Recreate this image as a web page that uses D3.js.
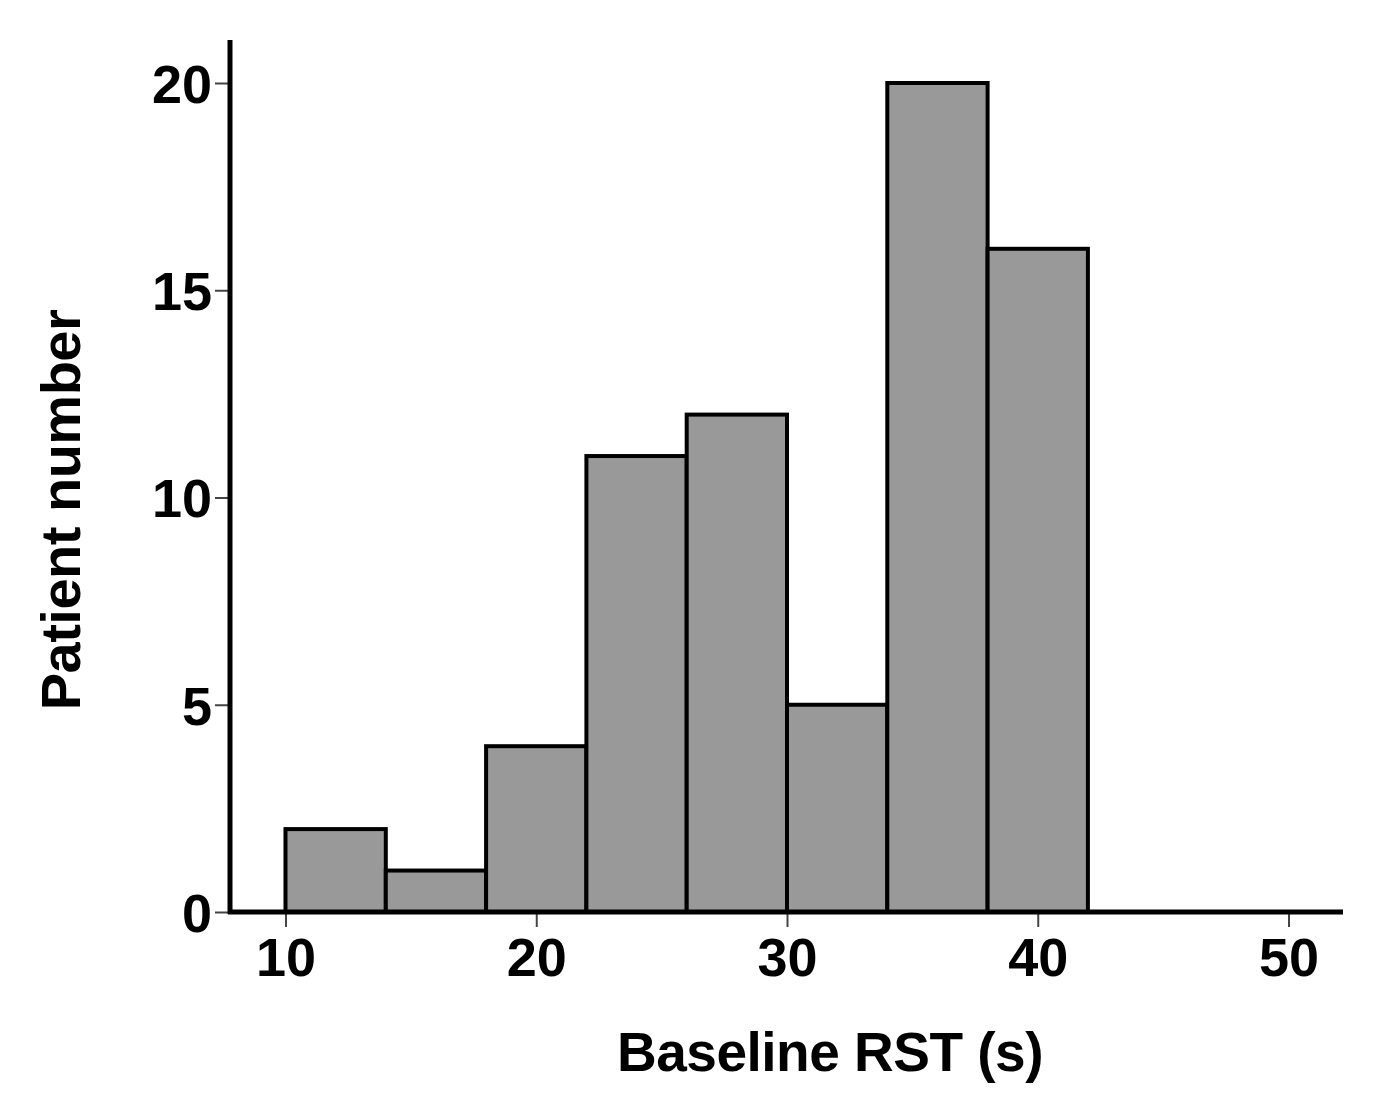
<!DOCTYPE html>
<html><head><meta charset="utf-8">
<script src="https://cdn.jsdelivr.net/npm/d3@7"></script>
<style>
html,body{margin:0;padding:0;background:#fff;}
text{font-family:"Liberation Sans",Arial,sans-serif;font-weight:bold;fill:#000;}
</style></head>
<body>
<svg id="c" width="1388" height="1112"></svg>
<script>
const binStarts = [10, 14, 18, 22, 26, 30, 34, 38];
const binWidth = 4;
const counts = [2, 1, 4, 11, 12, 5, 20, 16];
const xTicks = [10, 20, 30, 40, 50];
const yTicks = [0, 5, 10, 15, 20];
const xTitle = "Baseline RST (s)";
const yTitle = "Patient number";

const svg = d3.select("#c");
const x = d3.scaleLinear().domain([10, 50]).range([285.5, 1288.5]);
const y = d3.scaleLinear().domain([0, 20]).range([912, 83]);

// bars
svg.append("g").selectAll("rect").data(binStarts).join("rect")
  .attr("x", (d) => x(d))
  .attr("width", (d) => x(d + binWidth) - x(d))
  .attr("y", (d, i) => y(counts[i]))
  .attr("height", (d, i) => y(0) - y(counts[i]))
  .attr("fill", "#999999")
  .attr("stroke", "#000")
  .attr("stroke-width", 4);

// x axis
const xAxis = svg.append("g").attr("transform", "translate(0,912)")
  .call(d3.axisBottom(x).tickValues(xTicks).tickSize(15).tickPadding(11).tickFormat(d3.format("d")));
xAxis.select(".domain").remove();
xAxis.selectAll(".tick line").attr("stroke", "#444").attr("stroke-width", 2);
xAxis.selectAll("text").style("font-size", "54px").attr("fill", "#000");

// y axis
const yAxis = svg.append("g").attr("transform", "translate(230,0)")
  .call(d3.axisLeft(y).tickValues(yTicks).tickSize(15).tickPadding(3).tickFormat(d3.format("d")));
yAxis.select(".domain").remove();
yAxis.selectAll(".tick line").attr("stroke", "#444").attr("stroke-width", 2);
yAxis.selectAll("text").style("font-size", "54px").attr("fill", "#000").attr("dy", "0.36em");

// axis lines
svg.append("line").attr("x1", 230).attr("x2", 230).attr("y1", 40).attr("y2", 914)
  .attr("stroke", "#000").attr("stroke-width", 5);
svg.append("line").attr("x1", 228).attr("x2", 1343).attr("y1", 912).attr("y2", 912)
  .attr("stroke", "#000").attr("stroke-width", 5);

// titles
svg.append("text").attr("x", 830).attr("y", 1071).attr("text-anchor", "middle")
  .style("font-size", "55px").style("letter-spacing", "-0.5px").text(xTitle);
svg.append("text").attr("transform", "translate(80,510) rotate(-90)").attr("text-anchor", "middle")
  .style("font-size", "56px").style("letter-spacing", "-0.5px").text(yTitle);
</script>
</body></html>
